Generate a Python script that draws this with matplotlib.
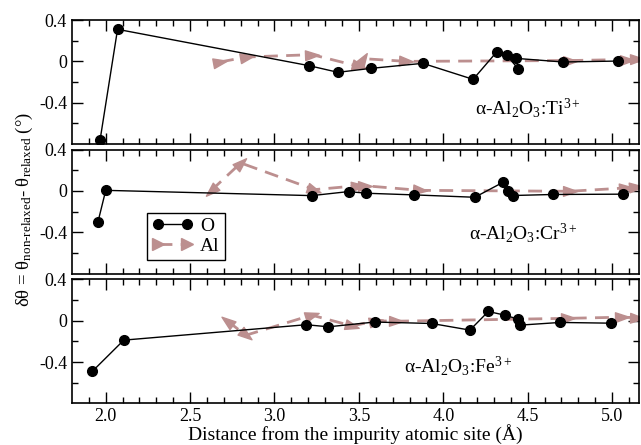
import numpy as np
from matplotlib import pyplot as plt
from matplotlib.path import Path
from matplotlib.markers import MarkerStyle
from matplotlib.transforms import Affine2D
from matplotlib.lines import Line2D

plt.rcParams['font.family'] = 'Liberation Serif'
plt.rcParams['mathtext.fontset'] = 'custom'
plt.rcParams['mathtext.rm'] = 'Liberation Serif'
plt.rcParams['mathtext.it'] = 'Liberation Serif:italic'
plt.rcParams['mathtext.default'] = 'regular'
plt.rcParams['font.size'] = 13
plt.rcParams['axes.linewidth'] = 1.2

# O neighbours (black circles)
ti_o_x = [1.966, 2.07, 3.206, 3.376, 3.57, 3.879, 4.177, 4.316, 4.376, 4.444, 4.432, 4.709, 5.034]
ti_o_y = [-0.765, 0.31, -0.042, -0.106, -0.068, -0.019, -0.174, 0.09, 0.058, -0.071, 0.029, -0.006, 0.003]
cr_o_x = [1.954, 2.0, 3.221, 3.439, 3.544, 3.827, 4.187, 4.352, 4.383, 4.413, 4.65, 5.063]
cr_o_y = [-0.30, 0.005, -0.046, -0.007, -0.023, -0.039, -0.062, 0.081, -0.006, -0.045, -0.035, -0.032]
fe_o_x = [1.92, 2.107, 3.188, 3.32, 3.593, 3.932, 4.158, 4.267, 4.364, 4.444, 4.454, 4.692, 4.995]
fe_o_y = [-0.49, -0.187, -0.038, -0.058, -0.012, -0.026, -0.09, 0.09, 0.055, 0.016, -0.042, -0.016, -0.023]

# Al neighbours (rosy dashed arrows)
ti_al_x = [2.677, 2.835, 3.223, 3.498, 3.527, 3.782, 4.75, 5.09, 5.15]
ti_al_y = [-0.006, 0.042, 0.065, -0.048, 0.026, 0.0, 0.008, 0.018, 0.02]
cr_al_x = [2.623, 2.80, 3.237, 3.494, 3.534, 3.86, 4.75, 5.08, 5.14]
cr_al_y = [0.0, 0.27, 0.012, 0.05, 0.05, 0.005, -0.004, 0.028, 0.035]
fe_al_x = [2.72, 2.83, 3.22, 3.46, 3.6, 3.72, 4.74, 5.06, 5.15]
fe_al_y = [0.0, -0.14, 0.055, -0.05, 0.0, -0.004, 0.024, 0.035, 0.03]

labels = [r'α-Al$_2$O$_3$:Ti$^{3+}$', r'α-Al$_2$O$_3$:Cr$^{3+}$', r'α-Al$_2$O$_3$:Fe$^{3+}$']
label_pos = [(0.71, 0.29), (0.70, 0.33), (0.585, 0.30)]
first_back = [False, True, True]

o_sets = [(ti_o_x, ti_o_y), (cr_o_x, cr_o_y), (fe_o_x, fe_o_y)]
al_sets = [(ti_al_x, ti_al_y), (cr_al_x, cr_al_y), (fe_al_x, fe_al_y)]

rosy = '#bc8f8f'
arrow = Path([(1, 0), (-1, 0.7), (-1, -0.7), (1, 0)],
             [Path.MOVETO, Path.LINETO, Path.LINETO, Path.CLOSEPOLY])

fig = plt.figure(figsize=(6.41, 4.45), dpi=100)
tops = [0.955, 0.664, 0.372]
h = 0.2787
axes = []
for i in range(3):
    ax = fig.add_axes([0.1123, tops[i] - h, 0.8846, h])
    ax.set_xlim(1.8, 5.16)
    ax.set_ylim(-0.8, 0.4)
    ax.set_xticks([2, 2.5, 3, 3.5, 4, 4.5, 5])
    ax.set_xticks(np.arange(1.9, 5.16, 0.1), minor=True)
    ax.set_yticks([-0.4, 0, 0.4])
    ax.set_yticklabels(['-0.4', '0', '0.4'])
    ax.set_yticks([-0.6, -0.2, 0.2], minor=True)
    ax.tick_params(which='both', direction='in', top=True, right=True, width=1.0)
    ax.tick_params(which='major', length=8)
    ax.tick_params(which='minor', length=4)
    if i < 2:
        ax.tick_params(labelbottom=False)

    ax_x, ax_y = al_sets[i]
    ax.plot(ax_x, ax_y, color=rosy, lw=2, dashes=(5, 3), zorder=2)
    pts = ax.transData.transform(np.column_stack([ax_x, ax_y]))
    for k in range(len(ax_x)):
        if k == 0:
            d = pts[0] - pts[1] if first_back[i] else pts[1] - pts[0]
        else:
            d = pts[k] - pts[k - 1]
        ang = np.degrees(np.arctan2(d[1], d[0]))
        m = MarkerStyle(arrow, transform=Affine2D().rotate_deg(ang))
        ax.plot(ax_x[k], ax_y[k], marker=m, ms=10, color=rosy, mec=rosy,
                ls='none', zorder=2, clip_on=True)

    ox, oy = o_sets[i]
    ax.plot(ox, oy, color='black', lw=1.0, marker='o', ms=7, zorder=3)
    ax.text(label_pos[i][0], label_pos[i][1], labels[i], transform=ax.transAxes,
            fontsize=14, va='center', ha='left')
    axes.append(ax)

axes[2].set_xlabel('Distance from the impurity atomic site (Å)', fontsize=14, labelpad=-1)

h_o = Line2D([], [], color='black', lw=1.0, marker='o', ms=7)
h_al = Line2D([], [], color=rosy, lw=2, dashes=(5, 3), marker='>', ms=8, mec=rosy)
leg = axes[1].legend([h_o, h_al], ['O', 'Al'], loc='upper left', bbox_to_anchor=(0.132, 0.49),
                     borderaxespad=0, fancybox=False, edgecolor='black', framealpha=1,
                     handlelength=2.1, numpoints=2, fontsize=14, handletextpad=0.4,
                     borderpad=0.25, labelspacing=0.1)
leg.get_frame().set_linewidth(1.0)

fig.text(0.038, 0.53, 'δθ = θ$_{non\u2010relaxed}$- θ$_{relaxed}$ (°)', rotation=90,
         ha='center', va='center', fontsize=13.5)

fig.savefig('out.png', dpi=100)
